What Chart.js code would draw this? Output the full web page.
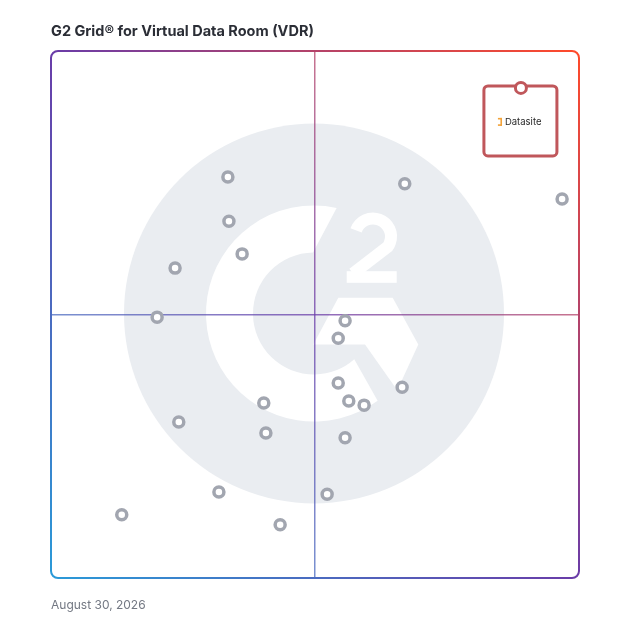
<!DOCTYPE html>
<html>
<head>
<meta charset="utf-8">
<script src="https://cdn.jsdelivr.net/npm/chart.js@4.4.1/dist/chart.umd.min.js"></script>
<style>
  body { margin: 0; background: #fff; }
  #wrap { position: relative; width: 628px; height: 628px; }
  #title { position: absolute; left: 51px; top: 22px; font: 700 14.5px Inter, "Noto Sans", sans-serif; color: #2b2e36; white-space: nowrap; }
  #date { position: absolute; left: 51px; top: 597px; font: 400 12px Inter, "Noto Sans", sans-serif; color: #737883; }
  canvas { position: absolute; left: 0; top: 0; }
</style>
</head>
<body>
<div id="wrap">
  <canvas id="grid" width="628" height="628"></canvas>
  <div id="title">G2 Grid® for Virtual Data Room (VDR)</div>
  <div id="date">August 30, 2026</div>
</div>
<script>
// market presence (x) and satisfaction (y), 0-100
const vendorX = [33.5, 33.7, 36.2, 23.5, 20.1, 67.0, 96.8, 55.7, 54.4, 54.4, 56.4, 59.3, 66.5, 40.3, 24.2, 40.7, 55.7, 31.8, 52.3, 13.4, 43.4];
const vendorY = [76.1, 67.7, 61.5, 58.8, 49.5, 74.8, 71.9, 48.8, 45.5, 37.0, 33.6, 32.8, 36.2, 33.2, 29.6, 27.5, 26.6, 16.3, 15.9, 12.0, 10.1];
const leaderName = 'Datasite';
const leaderX = [89.0];
const leaderY = [93.0];
const axisTicks = [0, 50, 100];

function edgeGradient(ctx, area, alpha) {
  const g = ctx.createLinearGradient(area.left, area.bottom, area.right, area.top);
  g.addColorStop(0, 'rgba(42,154,216,' + alpha + ')');
  g.addColorStop(0.5, 'rgba(106,60,168,' + alpha + ')');
  g.addColorStop(1, 'rgba(255,74,42,' + alpha + ')');
  return g;
}

function midLine(c) {
  const area = c.chart.chartArea;
  if (!area || c.tick.value !== 50) return 'rgba(0,0,0,0)';
  return edgeGradient(c.chart.ctx, area, 0.75);
}

const backdrop = {
  id: 'backdrop',
  beforeDraw(chart) {
    const ctx = chart.ctx;
    const a = chart.chartArea;
    const cx = (a.left + a.right) / 2, cy = (a.top + a.bottom) / 2;
    ctx.save();
    ctx.fillStyle = '#fff';
    ctx.fillRect(0, 0, chart.width, chart.height);
    // big grey disc
    ctx.fillStyle = '#eaedf1';
    ctx.beginPath();
    ctx.arc(cx - 1, cy - 1, 190, 0, Math.PI * 2);
    ctx.fill();
    // G ring
    const ox = cx - 1, oy = cy - 1;
    const d = Math.PI / 180;
    ctx.fillStyle = '#fff';
    ctx.beginPath();
    ctx.arc(ox, oy, 108, 53.9 * d, 282.1 * d, false);
    ctx.arc(ox, oy, 61, 269.1 * d, 48.7 * d, true);
    ctx.closePath();
    ctx.fill();
    // G bar + leg
    ctx.beginPath();
    ctx.moveTo(ox + 24.3, oy - 15.7);
    ctx.lineTo(ox + 78.7, oy - 15.7);
    ctx.lineTo(ox + 104.3, oy + 31);
    ctx.lineTo(ox + 83.3, oy + 76.7);
    ctx.lineTo(ox + 51, oy + 31);
    ctx.lineTo(ox - 0.7, oy + 31);
    ctx.closePath();
    ctx.fill();
    // the 2
    ctx.strokeStyle = '#fff';
    ctx.lineWidth = 12;
    ctx.beginPath();
    ctx.arc(ox + 59, oy - 77, 18, 200 * d, 35 * d, false);
    ctx.lineTo(ox + 39, oy - 40);
    ctx.stroke();
    ctx.fillRect(ox + 32.7, oy - 42.3, 50, 11.6);
    ctx.restore();
  },
  beforeDatasetsDraw(chart) {
    const ctx = chart.ctx;
    const a = chart.chartArea;
    ctx.save();
    // outer frame
    ctx.strokeStyle = edgeGradient(ctx, a, 1);
    ctx.lineWidth = 2;
    ctx.beginPath();
    ctx.roundRect(a.left, a.top, a.right - a.left, a.bottom - a.top, 7);
    ctx.stroke();
    // leader card
    const px = chart.scales.x.getPixelForValue(leaderX[0]);
    const py = chart.scales.y.getPixelForValue(leaderY[0]);
    ctx.fillStyle = '#fff';
    ctx.strokeStyle = '#c0575b';
    ctx.lineWidth = 3;
    ctx.beginPath();
    ctx.roundRect(px - 37, py - 2, 73, 70, 4);
    ctx.fill();
    ctx.stroke();
    // little logo
    ctx.fillStyle = '#f2a33a';
    ctx.fillRect(px - 23, py + 30, 4, 1.6);
    ctx.fillRect(px - 20.5, py + 30, 1.6, 8);
    ctx.fillRect(px - 23, py + 36.4, 4, 1.6);
    ctx.fillStyle = '#2a2a2a';
    ctx.font = '9.5px Inter, "Noto Sans", sans-serif';
    ctx.textBaseline = 'middle';
    ctx.fillText(leaderName, px - 16, py + 34.5);
    ctx.restore();
  }
};

const hiddenAxis = {
  min: 0,
  max: 100,
  afterBuildTicks: s => { s.ticks = axisTicks.map(v => ({ value: v })); },
  afterFit: s => { s.width = 0; s.height = 0; },
  ticks: { display: false },
  border: { display: false },
  grid: { drawTicks: false, lineWidth: 1.5, color: midLine }
};

new Chart(document.getElementById('grid'), {
  type: 'scatter',
  data: {
    datasets: [
      {
        label: 'Vendors',
        data: vendorX.map((x, i) => ({ x: x, y: vendorY[i] })),
        pointRadius: 5,
        pointHoverRadius: 5,
        borderWidth: 3.5,
        borderColor: '#a2a6b0',
        backgroundColor: '#fff'
      },
      {
        label: leaderName,
        data: leaderX.map((x, i) => ({ x: x, y: leaderY[i] })),
        pointRadius: 5.5,
        pointHoverRadius: 5.5,
        borderWidth: 3,
        borderColor: '#c0575b',
        backgroundColor: '#fff'
      }
    ]
  },
  options: {
    responsive: false,
    animation: false,
    layout: { padding: { left: 51, right: 49, top: 51, bottom: 50 } },
    plugins: { legend: { display: false }, tooltip: { enabled: false } },
    scales: { x: hiddenAxis, y: hiddenAxis }
  },
  plugins: [backdrop]
});
</script>
</body>
</html>
